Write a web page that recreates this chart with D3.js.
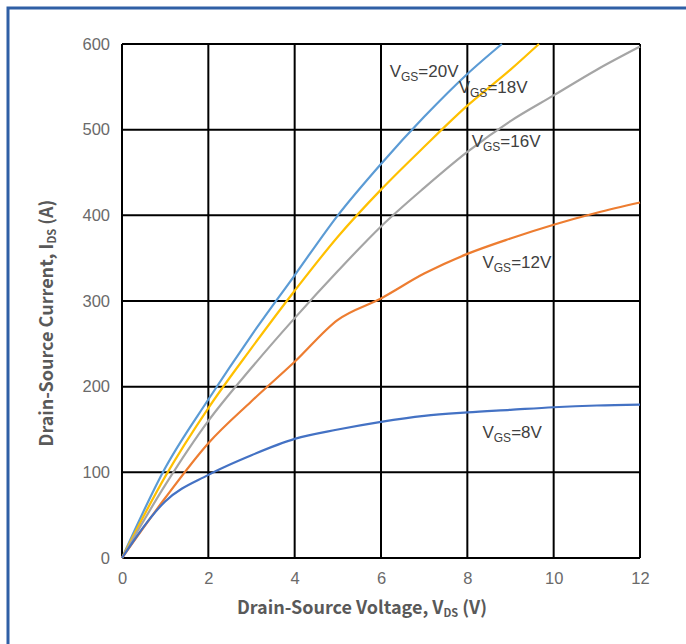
<!DOCTYPE html>
<html>
<head>
<meta charset="utf-8">
<script src="https://cdn.jsdelivr.net/npm/d3@7"></script>
<style>
  body { margin: 0; background: #fff; }
  svg text { font-family: "Liberation Sans", Arial, sans-serif; }
</style>
</head>
<body>
<div id="chart"></div>
<script>
// drain voltage samples (V)
const vds = [0, 1, 2, 3, 4, 5, 6, 7, 8, 9, 10, 11, 12];

// drain current per gate voltage (A)
const idsVgs20 = [0, 105, 185, 260, 330, 400, 460, 515, 565, 600];
const vdsVgs20 = [0, 1, 2, 3, 4, 5, 6, 7, 8, 8.8];
const idsVgs18 = [0, 95, 175, 245, 312, 375, 430, 480, 528, 570, 600];
const vdsVgs18 = [0, 1, 2, 3, 4, 5, 6, 7, 8, 9, 9.66];
const idsVgs16 = [0, 85, 160, 222, 280, 335, 387, 432, 474, 510, 540, 570, 597];
const idsVgs12 = [0, 70, 134, 183, 229, 278, 303, 332, 355, 373, 389, 403, 415];
const idsVgs8  = [0, 66, 97, 120, 139, 150, 159, 166, 170, 173, 176, 178, 179];

const xTicks = [0, 2, 4, 6, 8, 10, 12];
const yTicks = [0, 100, 200, 300, 400, 500, 600];

const series = [
  { name: "20V", x: vdsVgs20, y: idsVgs20, color: "#5b9bd5" },
  { name: "18V", x: vdsVgs18, y: idsVgs18, color: "#ffc000" },
  { name: "16V", x: vds, y: idsVgs16, color: "#a5a5a5" },
  { name: "12V", x: vds, y: idsVgs12, color: "#ed7d31" },
  { name: "8V",  x: vds, y: idsVgs8,  color: "#4472c4" }
];

const labels = [
  { sub: "GS", val: "=20V", v: 6.2, i: 562 },
  { sub: "GS", val: "=18V", v: 7.8, i: 543 },
  { sub: "GS", val: "=16V", v: 8.1, i: 480 },
  { sub: "GS", val: "=12V", v: 8.35, i: 338 },
  { sub: "GS", val: "=8V",  v: 8.35, i: 140 }
];

const W = 686, H = 644;
const margin = { top: 44, left: 122, right: 46, bottom: 86 };
const width = W - margin.left - margin.right,
      height = H - margin.top - margin.bottom;

const svg = d3.select("#chart").append("svg")
  .attr("width", W)
  .attr("height", H);

// outer frame (only the left and top edges show)
svg.append("rect")
  .attr("x", 8).attr("y", 8)
  .attr("width", W + 20).attr("height", H + 20)
  .attr("fill", "none")
  .attr("stroke", "#2f5fa5")
  .attr("stroke-width", 3);

const g = svg.append("g")
  .attr("transform", `translate(${margin.left}, ${margin.top})`);

const xScale = d3.scaleLinear().domain([0, 12]).range([0, width]);
const yScale = d3.scaleLinear().domain([0, 600]).range([height, 0]);

// grid
g.append("g").selectAll("line").data(xTicks).enter().append("line")
  .attr("x1", d => xScale(d)).attr("x2", d => xScale(d))
  .attr("y1", 0).attr("y2", height)
  .attr("stroke", "#000").attr("stroke-width", 2);
g.append("g").selectAll("line").data(yTicks).enter().append("line")
  .attr("x1", 0).attr("x2", width)
  .attr("y1", d => yScale(d)).attr("y2", d => yScale(d))
  .attr("stroke", "#000").attr("stroke-width", 2);

// axes (labels only)
const xAxis = g.append("g")
  .attr("transform", `translate(0, ${height})`)
  .call(d3.axisBottom(xScale).tickValues(xTicks).tickSize(0).tickPadding(14));
const yAxis = g.append("g")
  .call(d3.axisLeft(yScale).tickValues(yTicks).tickSize(0).tickPadding(12));
[xAxis, yAxis].forEach(a => {
  a.select(".domain").remove();
  a.selectAll("text")
    .style("font-size", "16.5px")
    .attr("fill", "#6a6a6a")
    .style("font-family", "'Liberation Sans', Arial, sans-serif");
});

// curves
const line = d3.line()
  .x(d => xScale(d[0]))
  .y(d => yScale(d[1]))
  .curve(d3.curveMonotoneX);

series.forEach(s => {
  g.append("path")
    .datum(s.x.map((v, k) => [v, s.y[k]]))
    .attr("fill", "none")
    .attr("stroke", s.color)
    .attr("stroke-width", 2.2)
    .attr("d", line);
});

// curve labels
labels.forEach(l => {
  const t = g.append("text")
    .attr("x", xScale(l.v))
    .attr("y", yScale(l.i))
    .attr("fill", "#404040")
    .style("font-size", "17px");
  t.append("tspan").text("V");
  t.append("tspan").attr("dy", 4).style("font-size", "12px").text(l.sub);
  t.append("tspan").attr("dy", -4).text(l.val);
});

// axis titles
const xt = svg.append("text")
  .attr("x", 362)
  .attr("y", 614)
  .attr("text-anchor", "middle")
  .attr("fill", "#595959")
  .style("font-size", "18px")
  .style("font-weight", "bold")
  .style("font-family", "'Noto Sans CJK SC', sans-serif");
xt.append("tspan").text("Drain-Source Voltage, V");
xt.append("tspan").attr("dy", 3).style("font-size", "11px").text("DS");
xt.append("tspan").attr("dy", -3).text(" (V)");

const yt = svg.append("text")
  .attr("transform", `translate(53, 323) rotate(-90)`)
  .attr("text-anchor", "middle")
  .attr("fill", "#595959")
  .style("font-size", "18px")
  .style("font-weight", "bold")
  .style("font-family", "'Noto Sans CJK SC', sans-serif");
yt.append("tspan").text("Drain-Source Current, I");
yt.append("tspan").attr("dy", 3).style("font-size", "11px").text("DS");
yt.append("tspan").attr("dy", -3).text(" (A)");
</script>
</body>
</html>
